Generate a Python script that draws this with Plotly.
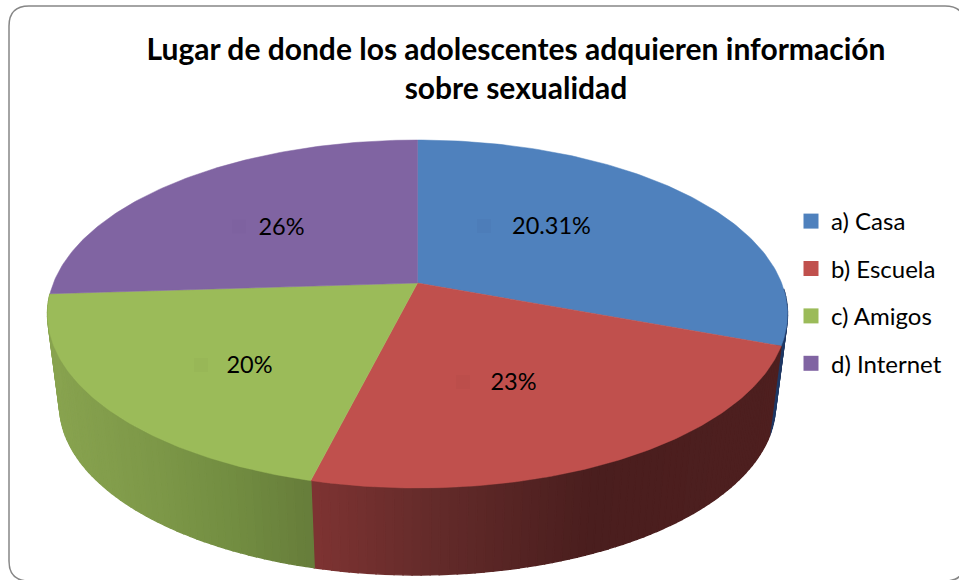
import numpy as np
import plotly.graph_objects as go

categories = ["a) Casa", "b) Escuela", "c) Amigos", "d) Internet"]
values = [30.7, 23.2, 20.1, 26.0]
shown_labels = ["20.31%", "23%", "20%", "26%"]
colors = ["#4F81BD", "#C0504D", "#9BBB59", "#8064A2"]
key_colors = ["#4D7DB9", "#BC4E4B", "#98B757", "#7E62A0"]

title_text = "Lugar de donde los adolescentes adquieren información<br>sobre sexualidad"

# 3-D view: the circle of the pie seen in perspective
CX, TOP_CY, TOP_RX, TOP_RY = 417.5, 314.0, 370.0, 174.0
BOT_CY, BOT_RX, BOT_RY = 405.0, 358.0, 170.0
PERSP = -0.178


def project(theta_deg, r, cy, rx, ry):
    t = np.radians(theta_deg)
    u = r * np.sin(t)
    v = -r * np.cos(t)
    d = 1 + PERSP * v
    return CX + rx * u * np.sqrt(1 - PERSP**2) / d, cy + ry * (v + PERSP) / d


def lerp_hex(stops, x):
    xs = [s[0] for s in stops]
    rgb = [np.interp(x, xs, [int(s[1][i:i + 2], 16) for s in stops]) for i in (1, 3, 5)]
    return "rgb(%d,%d,%d)" % tuple(int(round(c)) for c in rgb)


wall_shades = [
    [(700, "#1F3864"), (790, "#1F3864")],
    [(312, "#7E3332"), (430, "#642B2A"), (590, "#4A1E1E"), (790, "#4E1F1F")],
    [(50, "#88A34F"), (150, "#7D9848"), (230, "#728D41"), (315, "#667C3A")],
    [(40, "#88A34F"), (60, "#88A34F")],
]

edges = np.concatenate([[0], np.cumsum(values)]) / sum(values) * 360

fig = go.Figure()

# Side wall, drawn as narrow shaded strips
for i in range(3):
    start = max(edges[i], 92)
    stop = edges[i + 1]
    n = max(2, int((stop - start) / 1.2))
    grid = np.linspace(start, stop, n + 1)
    for a, b in zip(grid[:-1], grid[1:]):
        xa, ya = project(a, 1, TOP_CY, TOP_RX, TOP_RY)
        xb, yb = project(b, 1, TOP_CY, TOP_RX, TOP_RY)
        xc, yc = project(b, 1, BOT_CY, BOT_RX, BOT_RY)
        xd, yd = project(a, 1, BOT_CY, BOT_RX, BOT_RY)
        col = lerp_hex(wall_shades[i], (xa + xb) / 2)
        fig.add_trace(go.Scatter(
            x=[xa, xb, xc, xd, xa], y=[ya, yb, yc, yd, ya], mode="lines",
            fill="toself", fillcolor=col, line=dict(color=col, width=1.4),
            hoverinfo="skip", showlegend=False))

# Top faces
for i, cat in enumerate(categories):
    th = np.linspace(edges[i], edges[i + 1], 120)
    ex, ey = project(th, 1, TOP_CY, TOP_RX, TOP_RY)
    ax, ay = project(0.0, 0, TOP_CY, TOP_RX, TOP_RY)
    fig.add_trace(go.Scatter(
        x=np.concatenate([[ax], ex, [ax]]), y=np.concatenate([[ay], ey, [ay]]),
        mode="lines", fill="toself", fillcolor=colors[i],
        line=dict(color=colors[i], width=0.5), name=cat, text=shown_labels[i],
        hoverinfo="name+text", showlegend=False))

# Value labels with their faint keys
label_x = [551.5, 513.5, 249.5, 281.5]
label_y = [228, 384, 367, 229]
key_x = [484, 463, 201, 239]
key_y = [226, 382, 365, 226.5]
fig.add_trace(go.Scatter(
    x=key_x, y=key_y, mode="markers", showlegend=False, hoverinfo="skip",
    marker=dict(symbol="square", size=14, color=key_colors, line=dict(width=0))))
fig.add_trace(go.Scatter(
    x=label_x, y=label_y, mode="text", text=shown_labels, showlegend=False,
    hoverinfo="skip", textposition="middle center",
    textfont=dict(family="Lato", size=23.5, color="#000000")))

# Legend entries
for i, cat in enumerate(categories):
    fig.add_trace(go.Scatter(
        x=[None], y=[None], mode="markers", name=cat, legendgroup=cat,
        marker=dict(symbol="square", size=15, color=colors[i], line=dict(width=0))))

fig.update_layout(
    width=959, height=580, autosize=False,
    margin=dict(l=0, r=0, t=0, b=0),
    paper_bgcolor="white", plot_bgcolor="rgba(0,0,0,0)",
    xaxis=dict(range=[0, 959], visible=False, fixedrange=True),
    yaxis=dict(range=[580, 0], visible=False, fixedrange=True),
    title=dict(text="<b>" + title_text.replace("<br>", "</b><br><b>") + "</b>",
               x=516 / 959, xanchor="center", y=1 - 60 / 580, yanchor="top",
               font=dict(family="Lato", size=30, color="#000000")),
    legend=dict(x=791 / 959, y=1 - 199 / 580, xanchor="left", yanchor="top",
                bgcolor="rgba(0,0,0,0)", tracegroupgap=13.2,
                font=dict(family="Lato", size=24, color="#000000")),
    shapes=[dict(type="path", xref="x", yref="y",
                 path="M 29 6 L 945 6 Q 965 6 965 26 L 965 561 Q 965 581 945 581 "
                      "L 29 581 Q 9 581 9 561 L 9 26 Q 9 6 29 6 Z",
                 line=dict(color="#868686", width=1.5), layer="below")],
)

fig.write_html("out.html", post_script="document.body.style.margin='0';",
               config=dict(displayModeBar=False))
